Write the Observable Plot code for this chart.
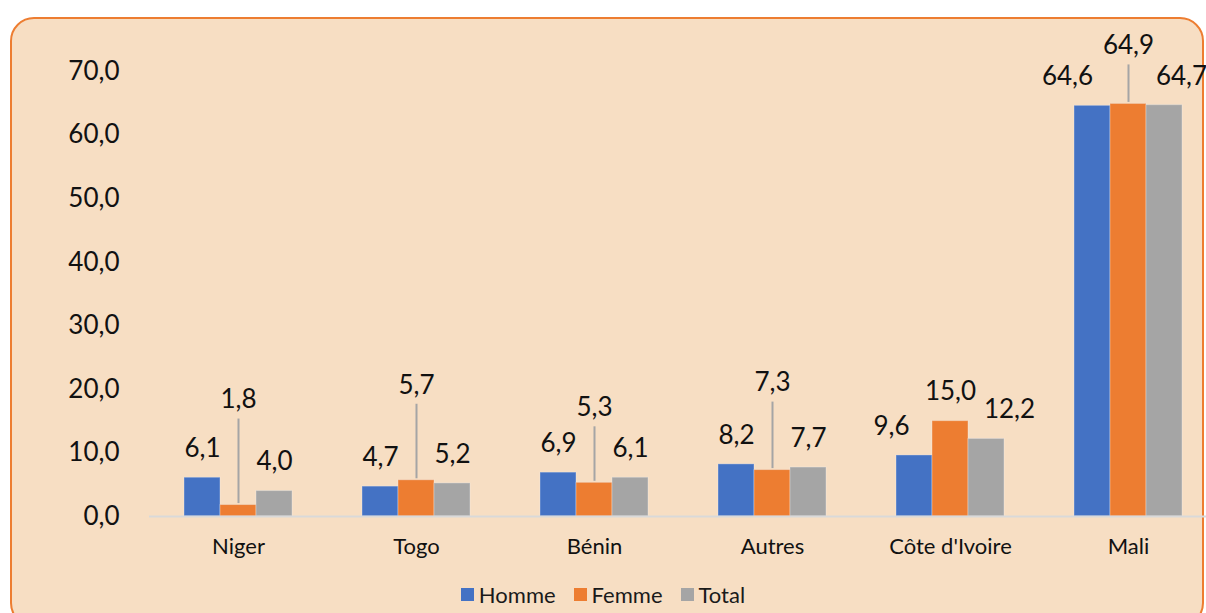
<!DOCTYPE html>
<html>
<head>
<meta charset="utf-8">
<script src="https://cdn.jsdelivr.net/npm/d3@7"></script>
<script src="https://cdn.jsdelivr.net/npm/@observablehq/plot@0.6"></script>
<style>
  html, body { margin: 0; padding: 0; background: #ffffff; overflow: hidden; }
  #wrap { position: relative; width: 1206px; height: 613px; overflow: hidden; font-family: Lato, "Open Sans", sans-serif; }
  #box { position: absolute; left: 10px; top: 17px; width: 1194px; height: 610px; background: #F7DEC3; border: 2.5px solid #ED7D31; border-radius: 24px; box-sizing: border-box; }
  #chart { position: absolute; left: 0; top: 0; width: 1217px; }
  #chart svg { max-width: none !important; }
  #legend { position: absolute; left: 0; width: 1206px; top: 581px; display: flex; justify-content: center; gap: 18px; font-size: 22px; color: #1a1a1a; }
  #legend span.item { display: inline-flex; align-items: center; gap: 5px; }
  #legend span.sw { display: inline-block; width: 13px; height: 13px; }
</style>
</head>
<body>
<div id="wrap">
  <div id="box"></div>
  <div id="chart"></div>
  <div id="legend"></div>
</div>
<script>
const categories = ["Niger", "Togo", "Bénin", "Autres", "Côte d'Ivoire", "Mali"];
const series = ["Homme", "Femme", "Total"];
const homme = [6.1, 4.7, 6.9, 8.2, 9.6, 64.6];
const femme = [1.8, 5.7, 5.3, 7.3, 15.0, 64.9];
const total = [4.0, 5.2, 6.1, 7.7, 12.2, 64.7];
const yTicks = [0, 10, 20, 30, 40, 50, 60, 70];
const colors = ["#4472C4", "#ED7D31", "#A5A5A5"];
// layout only: label placement (px)
const femmeLabelLift = [105, 95, 75, 87, 29, 58];
const hommeLabelShift = [0, 0, 0, 0, -23, -25];
const totalLabelShift = [0, 0, 0, 0, 23, 17];

const valuesBySeries = [homme, femme, total];
const data = [];
categories.forEach((c, i) => {
  series.forEach((s, j) => data.push({cat: c, series: s, value: valuesBySeries[j][i], idx: i}));
});

const fmt = v => v.toFixed(1).replace(".", ",");

const W = 1217, H = 570, mTop = 71, mBottom = 54;
const pxPerUnit = (H - mTop - mBottom) / 70;

const lifted = data.filter(d => d.series === "Femme" && femmeLabelLift[d.idx] > 40);
const femmeNormal = data.filter(d => d.series === "Femme" && femmeLabelLift[d.idx] <= 40);

const sideLabels = categories.flatMap((c, i) => [
  Plot.text(data.filter(d => d.idx === i && d.series === "Homme"), {fx: "cat", x: "series", y: "value", text: d => fmt(d.value), dy: -29, dx: hommeLabelShift[i], fontSize: 26, fill: "#111"}),
  Plot.text(data.filter(d => d.idx === i && d.series === "Total"), {fx: "cat", x: "series", y: "value", text: d => fmt(d.value), dy: -29, dx: totalLabelShift[i], fontSize: 26, fill: "#111"})
]);

const chart = Plot.plot({
  width: W,
  height: H,
  marginLeft: 148,
  marginRight: 0,
  marginTop: mTop,
  marginBottom: mBottom,
  style: {background: "transparent", fontFamily: "Lato, 'Open Sans', sans-serif", color: "#111", overflow: "visible", maxWidth: "none"},
  fx: {domain: categories, padding: 0, label: null},
  x: {domain: series, paddingInner: 0, paddingOuter: 0.97, axis: null},
  y: {domain: [0, 70], ticks: yTicks, label: null},
  color: {domain: series, range: colors},
  marks: [
    Plot.axisY({ticks: yTicks, tickFormat: fmt, tickSize: 0, tickPadding: 30, fontSize: 26, label: null, fill: "#111"}),
    Plot.axisFx({anchor: "bottom", tickSize: 0, tickPadding: 22, fontSize: 22, label: null, fill: "#111"}),
    Plot.barY(data, {fx: "cat", x: "series", y: "value", fill: "series", stroke: "#f2f2f2", strokeOpacity: 0.35, strokeWidth: 1}),
    Plot.ruleY([0], {stroke: "#D9D9D9", strokeWidth: 2}),
    Plot.ruleX(lifted, {
      fx: "cat", x: "series",
      y1: d => d.value + 1.5 / pxPerUnit,
      y2: d => d.value + (femmeLabelLift[d.idx] - 19) / pxPerUnit,
      stroke: "#A5A5A5", strokeWidth: 2
    }),
    ...sideLabels,
    Plot.text(femmeNormal, {fx: "cat", x: "series", y: "value", text: d => fmt(d.value), dy: -29, fontSize: 26, fill: "#111"}),
    Plot.text(lifted, {
      fx: "cat", x: "series",
      y: d => d.value + femmeLabelLift[d.idx] / pxPerUnit,
      text: d => fmt(d.value), fontSize: 26, fill: "#111"
    })
  ]
});
document.getElementById("chart").appendChild(chart);

const legend = document.getElementById("legend");
series.forEach((s, j) => {
  const item = document.createElement("span");
  item.className = "item";
  const sw = document.createElement("span");
  sw.className = "sw";
  sw.style.background = colors[j];
  item.appendChild(sw);
  item.appendChild(document.createTextNode(s));
  legend.appendChild(item);
});
</script>
</body>
</html>
